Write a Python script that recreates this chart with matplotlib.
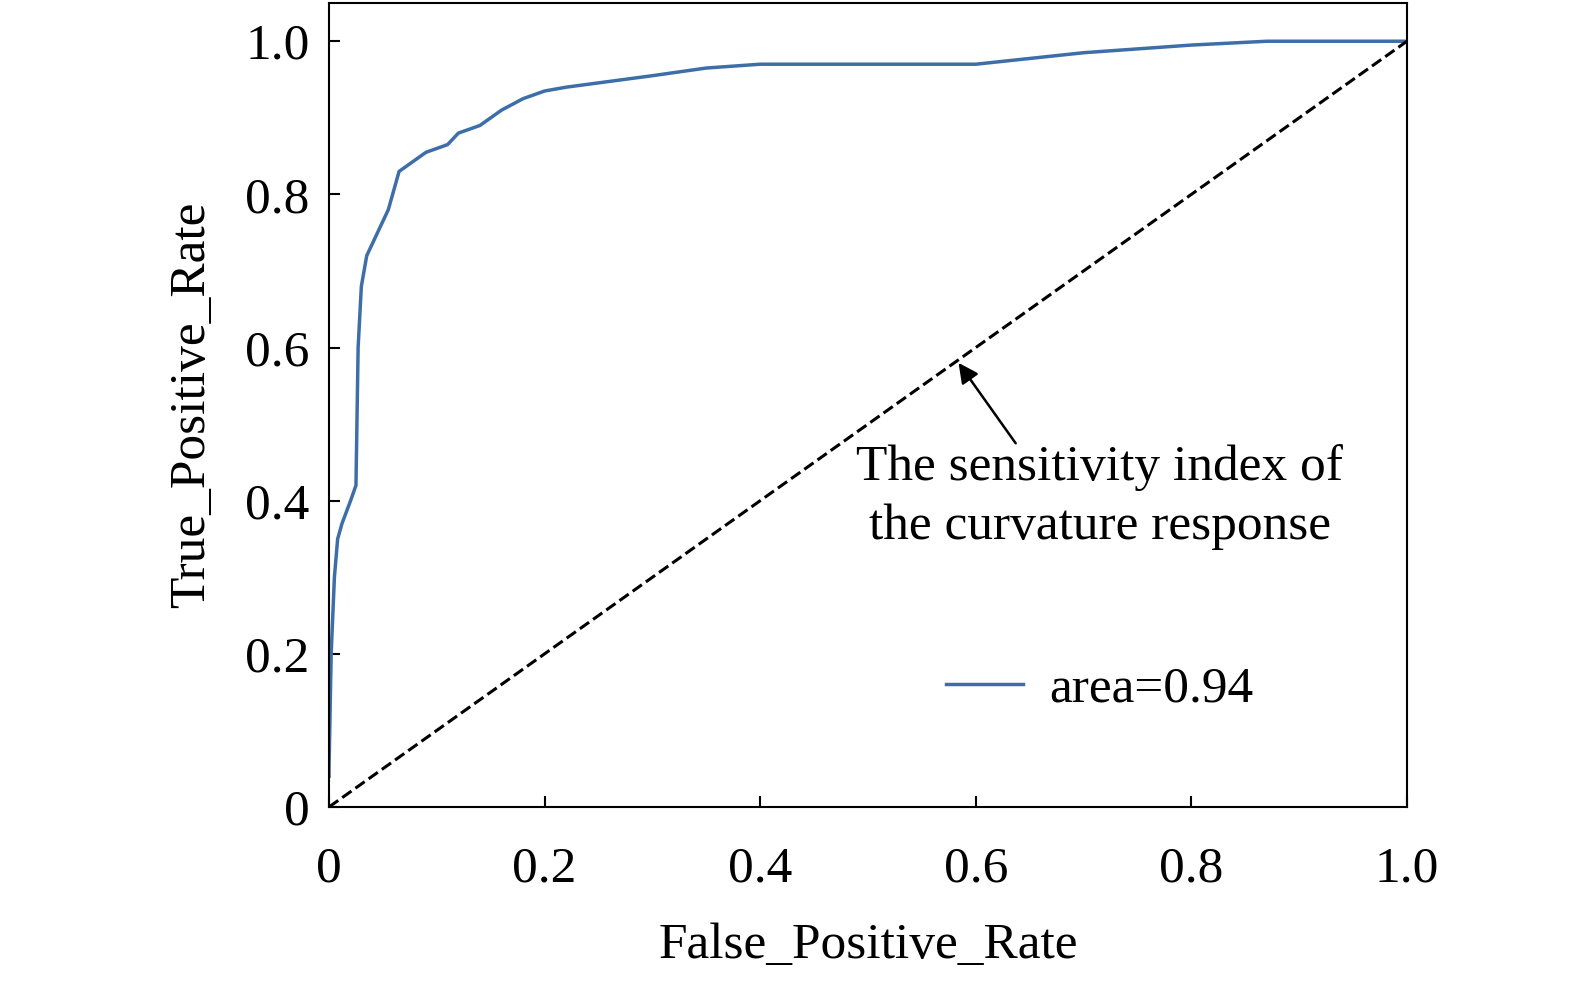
import matplotlib
matplotlib.use('Agg')
import matplotlib.pyplot as plt

fpr = [0,0.0,0.002,0.005,0.008,0.012,0.02,0.025,0.027,0.03,0.035,0.045,0.055,0.065,0.08,0.09,0.11,0.12,0.14,0.16,0.18,0.2,0.22,0.3,0.35,0.4,0.6,0.7,0.8,0.87,1.0]
tpr = [0.04,0.05,0.2,0.3,0.35,0.37,0.40,0.42,0.6,0.68,0.72,0.75,0.78,0.83,0.845,0.855,0.865,0.88,0.89,0.91,0.925,0.935,0.94,0.955,0.965,0.97,0.97,0.985,0.995,1.0,1.0]
ticks = [0,0.2,0.4,0.6,0.8,1.0]
ticklabels = ['0','0.2','0.4','0.6','0.8','1.0']

plt.rcParams['font.family'] = ['Liberation Serif', 'DejaVu Serif']
fs = 37
fig = plt.figure(figsize=(15.75,9.84), dpi=100)
ax = fig.add_axes([0.2089,0.1799,0.6844,0.8171])
ax.plot(fpr, tpr, color='#3e6ea8', lw=2.5, label='area=0.94')
ax.plot([0,1],[0,1], 'k--', lw=2.2)
ax.set_xlim(0,1); ax.set_ylim(0,1.05)
ax.set_xticks(ticks); ax.set_xticklabels(ticklabels)
ax.set_yticks(ticks); ax.set_yticklabels(ticklabels)
ax.tick_params(direction='in', labelsize=fs, length=8, width=1.5, pad=14)
ax.tick_params(axis='x', pad=28)
for s in ax.spines.values(): s.set_linewidth(1.5)
ax.set_xlabel('False_Positive_Rate', fontsize=fs, labelpad=22)
ax.set_ylabel('True_Positive_Rate', fontsize=fs, labelpad=22)
ax.text(0.715, 0.405, 'The sensitivity index of\nthe curvature response', ha='center', va='center',
        fontsize=fs, linespacing=1.35, transform=ax.transData)
ax.annotate('', xy=(0.584,0.58), xytext=(0.637,0.475),
            arrowprops=dict(arrowstyle='-|>', color='black', lw=1.8, mutation_scale=30, shrinkA=0, shrinkB=0))
ax.legend(loc='lower right', bbox_to_anchor=(0.9,0.06), frameon=False, fontsize=fs,
          handlelength=1.5, handletextpad=0.5)
fig.savefig('out.png')
